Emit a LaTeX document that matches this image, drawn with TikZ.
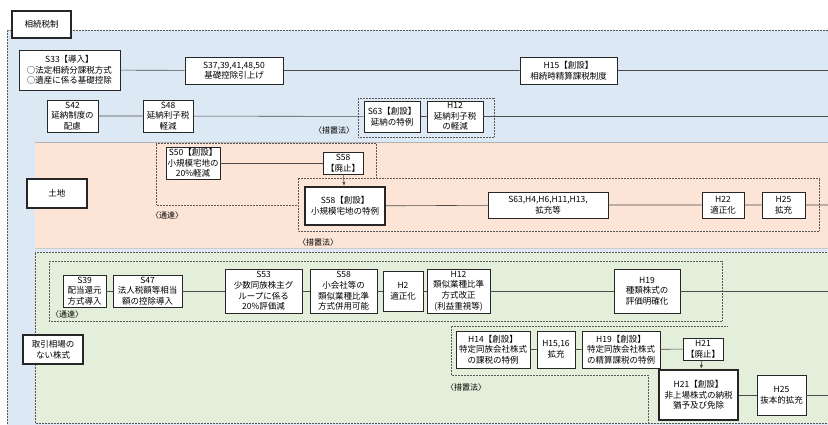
\documentclass[tikz,border=0pt]{standalone}
\usepackage{fontspec}
\setmainfont{Noto Sans CJK JP}
\usetikzlibrary{arrows.meta,shadows}

\definecolor{bandblue}{RGB}{221,232,245}
\definecolor{bandorange}{RGB}{252,228,214}
\definecolor{bandgreen}{RGB}{227,239,219}

\tikzset{
  box/.style={draw=black!85, fill=white, line width=0.7pt, align=center,
    inner sep=0.3pt, font=\fontsize{8.5}{10.6}\selectfont,
    drop shadow={shadow xshift=1.4pt, shadow yshift=-1.4pt, opacity=0.45}},
  keybox/.style={box, line width=2.2pt},
  grp/.style={densely dotted, line width=0.5pt, black!65},
  link/.style={draw=black!70, line width=0.6pt},
  arr/.style={link, -{Latex[length=4pt,width=3.2pt]}},
  note/.style={font=\fontsize{8}{9.5}\selectfont, inner sep=0pt},
}

% \placebox{style}{name}{x1}{y1}{x2}{y2}{text}
\newcommand{\placebox}[7]{%
  \node[#1, minimum width={(#5-#3)*1pt}, minimum height={(#6-#4)*1pt}]
    (#2) at ({(#3+#5)/2},{(#4+#6)/2}) {#7};}

\begin{document}
\begin{tikzpicture}[x=1pt,y=-1pt]
\fill[white] (0,0) rectangle (828,425);
\useasboundingbox (0,0) rectangle (828,425);

% bands
\fill[bandblue] (7,30) rectangle (828,425);
\draw[grp] (7,425) -- (7,30) -- (828,30);
\fill[bandorange] (35,142) rectangle (828,248);
\draw[black!30, line width=0.9pt] (35,142.5) -- (828,142.5);
\draw[black!20, line width=0.8pt] (35,248) -- (828,248);
\fill[bandgreen] (35,252) rectangle (828,423);
\draw[grp] (828,252) -- (35,252) -- (35,423) -- (828,423);

% group frames
\draw[grp] (358,98) rectangle (494,137);
\draw[grp] (298,205) -- (156,205) -- (156,143) -- (376,143) -- (376,178);
\draw[grp] (298,178) rectangle (819,231);
\draw[grp] (49,261) rectangle (722,321);
\draw[grp] (648,422) -- (648,375) -- (451,375) -- (451,326) -- (728,326);

% frame labels
\node[note] (lbA) at (334,130) {〈措置法〉};
\node[note] (lbB) at (167,215) {〈通達〉};
\node[note] (lbC) at (318,242) {〈措置法〉};
\node[note] (lbD) at (67,314) {〈通達〉};
\node[note] (lbE) at (466,387) {〈措置法〉};

% category boxes
\placebox{keybox}{title}{12}{11}{71}{38}{相続税制}
\placebox{keybox}{land}{27}{179}{87}{208}{土地}
\placebox{keybox}{stock}{23}{335}{83}{364}{取引相場の\\ない株式}

% inheritance tax: basic
\placebox{box}{s33}{19}{50}{120}{90}{S33【導入】\\○法定相続分課税方式\\○遺産に係る基礎控除}
\placebox{box}{s37}{185}{57}{283}{84}{S37,39,41,48,50\\基礎控除引上げ}
\placebox{box}{h15}{520}{57}{617}{84}{H15【創設】\\相続時精算課税制度}
\coordinate (e1) at (828,70.5);

% deferred payment
\placebox{box}{s42}{47}{100}{98}{132}{S42\\延納制度の\\配慮}
\placebox{box}{s48}{143}{100}{193}{132}{S48\\延納利子税\\軽減}
\placebox{box}{s63}{364}{101}{420}{132}{S63【創設】\\延納の特例}
\placebox{box}{h12}{427}{101}{483}{132}{H12\\延納利子税\\の軽減}
\coordinate (e2) at (828,116.5);

% land
\placebox{box}{s50}{166}{147}{220}{179}{S50【創設】\\小規模宅地の\\20\%軽減}
\placebox{box}{s58a}{323}{152}{363}{174}{S58\\【廃止】}
\placebox{keybox}{s58b}{305}{187}{385}{225}{S58【創設】\\小規模宅地の特例}
\placebox{box}{s63b}{488}{192}{608}{218}{S63,H4,H6,H11,H13,\\拡充等}
\placebox{box}{h22}{702}{192}{744}{218}{H22\\適正化}
\placebox{box}{h25}{762}{192}{805}{218}{H25\\拡充}
\coordinate (e3) at (828,205);

% unlisted shares: valuation
\placebox{box}{s39}{63}{275}{106}{307}{S39\\配当還元\\方式導入}
\placebox{box}{s47}{113}{275}{182}{307}{S47\\法人税額等相当\\額の控除導入}
\placebox{box}{s53}{225}{269}{302}{313}{S53\\少数同族株主グ\\ループに係る\\20\%評価減}
\placebox{box}{s58c}{310}{269}{377}{313}{S58\\小会社等の\\類似業種比準\\方式併用可能}
\placebox{box}{h2}{383}{271}{423}{311}{H2\\適正化}
\placebox{box}{h12b}{427}{269}{490}{313}{H12\\類似業種比準\\方式改正\\(利益重視等)}
\placebox{box}{h19}{614}{269}{680}{313}{H19\\種類株式の\\評価明確化}
\coordinate (e4) at (828,291);

% unlisted shares: special rules
\placebox{box}{h14}{456}{331}{530}{368}{H14【創設】\\特定同族会社株式\\の課税の特例}
\placebox{box}{h1516}{537}{331}{575}{368}{H15,16\\拡充}
\placebox{box}{h19b}{582}{331}{660}{368}{H19【創設】\\特定同族会社株式\\の精算課税の特例}
\placebox{box}{h21a}{683}{338}{723}{360}{H21\\【廃止】}
\placebox{keybox}{h21b}{659}{370}{738}{420}{H21【創設】\\非上場株式の納税\\猶予及び免除}
\placebox{box}{h25b}{757}{375}{806}{415}{H25\\抜本的拡充}
\coordinate (e5) at (828,395);

% connectors
\draw[link] (s33) -- (s37) -- (h15) -- (e1);
\draw[link] (s42) -- (s48) -- (s63) -- (h12) -- (e2);
\draw[link] (s50) -- (s58a);
\draw[arr] (s58a) -- (s58b);
\draw[link] (s58b) -- (s63b) -- (h22) -- (h25) -- (e3);
\draw[link] (s39) -- (s47) -- (s53) -- (s58c) -- (h2) -- (h12b) -- (h19) -- (e4);
\draw[link] (h14) -- (h1516) -- (h19b) -- (h21a);
\draw[arr] (h21a) -- (h21b);
\draw[link] (h21b) -- (h25b) -- (e5);
\end{tikzpicture}
\end{document}
